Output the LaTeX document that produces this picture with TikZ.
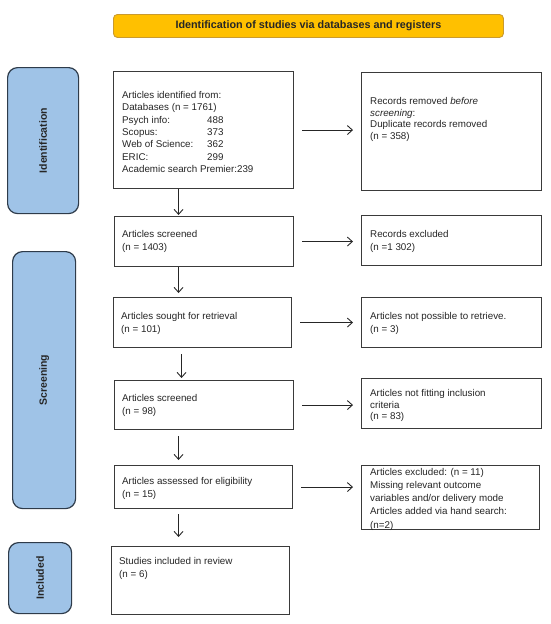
\documentclass[tikz,border=0pt]{standalone}
\usepackage{fontspec}
\setmainfont{Liberation Sans}
\usetikzlibrary{arrows.meta,calc}
\definecolor{banfill}{HTML}{FFC000}
\definecolor{banedge}{HTML}{C99A2E}
\definecolor{sidefill}{HTML}{9FC3E7}
\definecolor{sideedge}{HTML}{2E3B4A}
\definecolor{boxedge}{HTML}{3A3A3A}
\tikzset{
  box/.style={draw=boxedge, line width=1.1pt, fill=white, inner sep=0pt, anchor=north west},
  side/.style={draw=sideedge, line width=1.2pt, fill=sidefill, rounded corners=10pt, inner sep=0pt, anchor=north west},
  sidelbl/.style={rotate=90, font=\fontsize{10.5}{12}\selectfont\bfseries, text=black!85, inner sep=0pt},
  txt/.style={anchor=north west, inner sep=0pt, align=left, text=black!85, font=\fontsize{9.8}{13}\selectfont},
  arr/.style={-{Straight Barb[length=5pt,width=9pt]}, line width=0.9pt, black!85},
}
\begin{document}
\begin{tikzpicture}[x=1pt,y=-1pt]
\useasboundingbox (0,0) rectangle (550,624);
% banner
\node[draw=banedge, line width=0.9pt, fill=banfill, rounded corners=4pt, minimum width=390pt, minimum height=23pt, inner sep=0pt, anchor=north west] (ban) at (113,14) {};
\node[font=\fontsize{10.8}{12}\selectfont\bfseries, text=black!85, inner sep=0pt] (bant) at (ban.center) {Identification of studies via databases and registers};
% side boxes
\node[side, minimum width=71pt, minimum height=146pt] (sid) at (7,67) {};
\node[sidelbl] (sidt) at (sid.center) {Identification};
\node[side, minimum width=63pt, minimum height=257pt] (sscr) at (12,251) {};
\node[sidelbl] (sscrt) at (sscr.center) {Screening};
\node[side, minimum width=63pt, minimum height=71pt] (sinc) at (8,542) {};
\node[sidelbl] (sinct) at (sinc.center) {Included};
% left boxes
\node[box, minimum width=180pt, minimum height=117pt] (L1) at (113,71) {};
\node[box, minimum width=179pt, minimum height=50pt] (L2) at (114,216) {};
\node[box, minimum width=178pt, minimum height=50pt] (L3) at (113,297) {};
\node[box, minimum width=179pt, minimum height=49pt] (L4) at (114,380) {};
\node[box, minimum width=178pt, minimum height=43pt] (L5) at (114,465) {};
\node[box, minimum width=178pt, minimum height=68pt] (L6) at (111,546) {};
% right boxes
\node[box, minimum width=180pt, minimum height=118pt] (R1) at (361,72) {};
\node[box, minimum width=180pt, minimum height=50pt] (R2) at (361,215) {};
\node[box, minimum width=180pt, minimum height=50pt] (R3) at (361,297) {};
\node[box, minimum width=180pt, minimum height=50pt] (R4) at (361,378) {};
\node[box, minimum width=178pt, minimum height=64pt] (R5) at (361,465) {};
% texts
\node[txt, font=\fontsize{9.8}{12.4}\selectfont] (L1t) at (122,91) {Articles identified from:\\Databases (n = 1761)\\
\makebox[85pt][l]{Psych info:}488\\
\makebox[85pt][l]{Scopus:}373\\
\makebox[85pt][l]{Web of Science:}362\\
\makebox[85pt][l]{ERIC:}299\\
Academic search Premier:239};
\node[txt] (L2t) at (122,230) {Articles screened\\(n = 1403)};
\node[txt] (L3t) at (121,312) {Articles sought for retrieval\\(n = 101)};
\node[txt] (L4t) at (122,394) {Articles screened\\(n = 98)};
\node[txt] (L5t) at (122,477) {Articles assessed for eligibility\\(n = 15)};
\node[txt] (L6t) at (119,557) {Studies included in review\\(n = 6)};
\node[txt, font=\fontsize{9.8}{11.8}\selectfont] (R1t) at (370,97) {Records removed \textit{before}\\\textit{screening}:\\Duplicate records removed\\(n = 358)};
\node[txt] (R2t) at (370,230) {Records excluded\\(n =1 302)};
\node[txt] (R3t) at (370,312) {Articles not possible to retrieve.\\(n = 3)};
\node[txt, font=\fontsize{9.8}{11.8}\selectfont] (R4t) at (370,389) {Articles not fitting inclusion\\criteria\\(n = 83)};
\node[txt, font=\fontsize{9.8}{13.2}\selectfont] (R5t) at (370,468) {Articles excluded: (n = 11)\\Missing relevant outcome\\variables and/or delivery mode\\Articles added via hand search:\\(n=2)};
% horizontal arrows
\foreach \a/\b in {L1/R1,L2/R2,L3/R3,L4/R4,L5/R5}{
  \draw[arr] ([xshift=8pt]\a.east) -- ([xshift=-8pt]\a.east -| \b.west);
}
% vertical arrows
\draw[arr] ([xshift=-25pt]L1.south) -- ([xshift=-25pt,yshift=1pt]L1.south |- L2.north);
\draw[arr] ([xshift=-25.5pt]L2.south) -- ([xshift=-25.5pt,yshift=4pt]L2.south |- L3.north);
\draw[arr, shorten <=6pt] ([xshift=-21pt]L3.south) -- ([xshift=-21pt,yshift=2pt]L3.south |- L4.north);
\draw[arr, shorten <=6pt] ([xshift=-25.5pt]L4.south) -- ([xshift=-25.5pt,yshift=5pt]L4.south |- L5.north);
\draw[arr, shorten <=5pt] ([xshift=-25pt]L5.south) -- ([xshift=-25pt,yshift=9pt]L5.south |- L6.north);
\end{tikzpicture}
\end{document}
